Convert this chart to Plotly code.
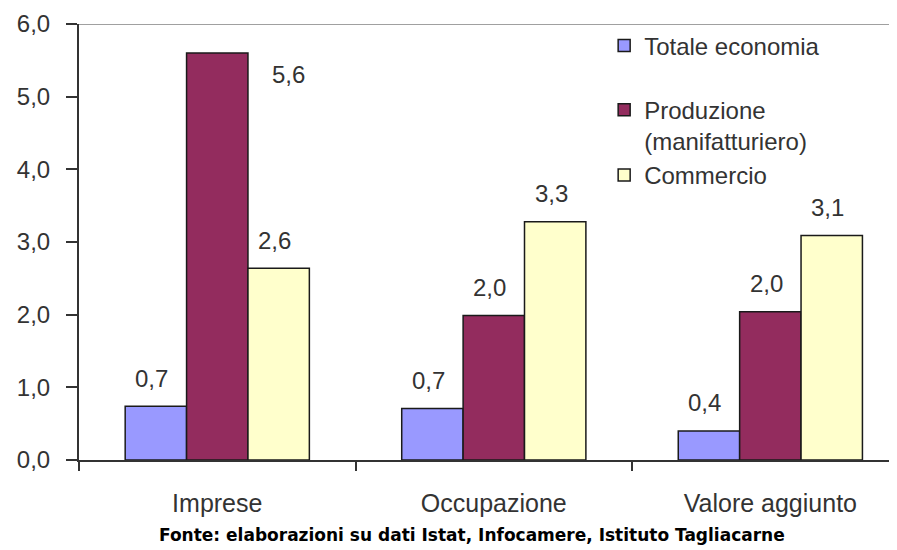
import plotly.graph_objects as go

categories = ["Imprese", "Occupazione", "Valore aggiunto"]
series_names = ["Totale economia", "Produzione<br>(manifatturiero)", "Commercio"]
totale = [0.74, 0.71, 0.40]
produzione = [5.6, 1.99, 2.04]
commercio = [2.64, 3.28, 3.09]
label_totale = ["0,7", "0,7", "0,4"]
label_produzione = ["5,6", "2,0", "2,0"]
label_commercio = ["2,6", "3,3", "3,1"]
y_ticks = [0, 1, 2, 3, 4, 5, 6]
source_note = "Fonte: elaborazioni su dati Istat, Infocamere, Istituto Tagliacarne"

colors = ["#9999FF", "#932C5E", "#FFFFCC"]
groups = ["g1", "g2", "g2"]
values = [totale, produzione, commercio]
labels = [label_totale, label_produzione, label_commercio]

FONT = "Liberation Sans, Arial, sans-serif"
TXT = "#333333"

fig = go.Figure()
for name, vals, col, grp in zip(series_names, values, colors, groups):
    fig.add_trace(go.Bar(
        x=categories, y=vals, name=name, legendgroup=grp,
        marker=dict(color=col, line=dict(color="#1a1a1a", width=1.5)),
    ))

# data labels (positioned relative to each bar)
bar_offset = 61.4
for si, (vals, labs) in enumerate(zip(values, labels)):
    for ci, (cat, v, lab) in enumerate(zip(categories, vals, labs)):
        xs = (si - 1) * bar_offset - 4
        ys = 28
        if si == 1 and ci == 0:
            xs = 71
            ys = -21
        fig.add_annotation(x=cat, y=v, text=lab, showarrow=False,
                           xshift=xs, yshift=ys, yanchor="middle",
                           font=dict(family=FONT, size=24, color=TXT))

fig.add_annotation(xref="paper", yref="paper", x=0.481, y=-0.172,
                   text="<b>" + source_note + "</b>", showarrow=False,
                   yanchor="middle",
                   font=dict(family="DejaVu Sans, Verdana, sans-serif", size=17, color="#000000"))

# top border of the plot area
fig.add_shape(type="line", xref="paper", yref="y", x0=0, x1=1, y0=6, y1=6,
              line=dict(color="#A0A0A0", width=2))

fig.update_layout(
    width=889, height=542,
    margin=dict(l=71, r=0, t=16, b=90, autoexpand=False),
    paper_bgcolor="white", plot_bgcolor="white",
    separators=",.",
    barmode="group", bargap=0.334, bargroupgap=0,
    font=dict(family=FONT, size=24, color=TXT),
    showlegend=True,
    legend=dict(x=0.642, y=1.0015, xanchor="left", yanchor="top",
                bgcolor="rgba(0,0,0,0)", font=dict(family=FONT, size=24, color=TXT),
                tracegroupgap=30, valign="top", traceorder="grouped"),
    xaxis=dict(type="category", range=[-0.5, 2.458], showline=True, automargin=False,
               linecolor="#333333", linewidth=2, ticks="outside", tickson="boundaries",
               ticklen=9, tickwidth=2, tickcolor="#333333", showgrid=False,
               tickfont=dict(family=FONT, size=25, color=TXT), ticklabelstandoff=20),
    yaxis=dict(range=[0, 6], tickvals=y_ticks, tickformat=".1f", showline=True,
               automargin=False,
               linecolor="#333333", linewidth=2, ticks="outside", ticklen=11,
               tickwidth=2, tickcolor="#333333", showgrid=False, zeroline=False,
               tickfont=dict(family=FONT, size=24, color=TXT), ticklabelstandoff=11),
)

fig.write_html("out.html")
